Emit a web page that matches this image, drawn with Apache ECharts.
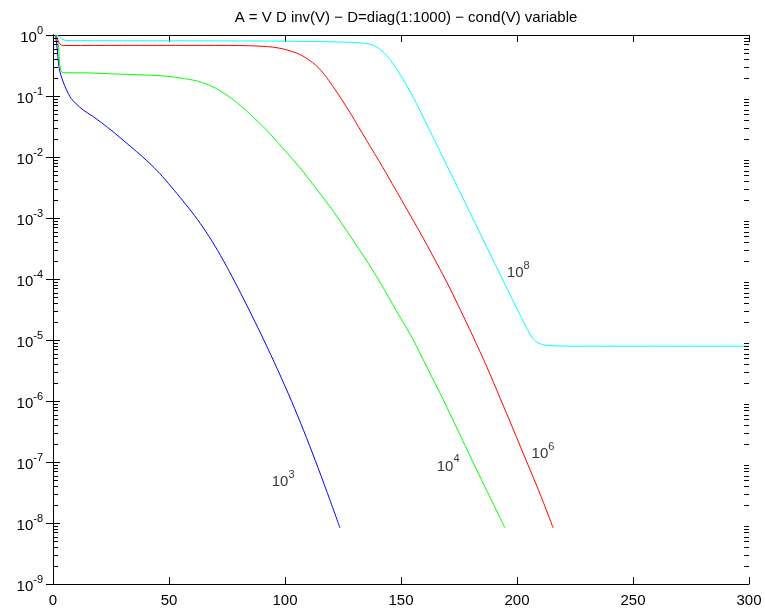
<!DOCTYPE html>
<html>
<head>
<meta charset="utf-8">
<script src="https://cdn.jsdelivr.net/npm/echarts@6/dist/echarts.min.js"></script>
<style>
  html, body { margin: 0; padding: 0; background: #fff; }
  #chart { width: 765px; height: 609px; }
</style>
</head>
<body>
<div id="chart"></div>
<script>
// Residual curves for four condition numbers of V: [iteration, residual]
const cond1e3 = [
  [1, 1.0], [1.6, 0.708], [2.7, 0.282], [4.4, 0.170], [7.3, 0.0977], [10, 0.0741],
  [13, 0.0589], [17, 0.0468], [21, 0.0363], [26, 0.0257], [31, 0.0178], [36, 0.0123],
  [41, 8.32e-3], [46, 5.37e-3], [51, 3.24e-3], [56, 1.91e-3], [61, 1.10e-3],
  [66, 5.89e-4], [71, 2.92e-4], [76, 1.33e-4], [81, 5.75e-5], [86, 2.40e-5],
  [90.5, 1.07e-5], [97, 3.16e-6], [102.9, 9.77e-7], [108, 3.31e-7], [113, 1.07e-7],
  [118, 3.31e-8], [123.7, 8.32e-9]
];
const cond1e4 = [
  [1, 1.0], [2.3, 0.692], [2.7, 0.417], [3.3, 0.269], [4.2, 0.243], [6, 0.241],
  [15, 0.239], [27.4, 0.229], [40, 0.221], [49, 0.211], [55, 0.197], [58.5, 0.188],
  [61.9, 0.177], [66, 0.158], [70, 0.135], [73.8, 0.110], [77.7, 0.0871],
  [81.5, 0.0661], [85, 0.0501], [92.1, 0.0275], [99, 0.0141], [106.5, 6.61e-3],
  [113.5, 3.02e-3], [120.8, 1.29e-3], [128, 5.13e-4], [134.5, 2.19e-4],
  [140.9, 8.91e-5], [148, 3.02e-5], [155, 1.05e-5], [161.5, 3.39e-6],
  [168.2, 1.05e-6], [174.5, 3.31e-7], [181, 1.0e-7], [188, 2.82e-8], [194.8, 8.32e-9]
];
const cond1e6 = [
  [1, 1.0], [1.6, 0.933], [3, 0.708], [4.4, 0.673], [6, 0.673], [30, 0.676],
  [60, 0.676], [80, 0.673], [90, 0.653], [95, 0.631], [99.3, 0.589], [103, 0.537],
  [106.5, 0.479], [110, 0.398], [113.7, 0.309], [117, 0.224], [120.8, 0.141],
  [124.5, 0.0871], [128, 0.0537], [135.2, 0.0186], [142, 6.92e-3], [150.3, 1.95e-3],
  [160, 4.37e-4], [169.7, 8.91e-5], [175, 3.47e-5], [181, 1.15e-5], [187, 3.63e-6],
  [192.7, 1.12e-6], [198, 3.72e-7], [204, 1.05e-7], [210, 2.95e-8], [215.6, 8.32e-9]
];
const cond1e8 = [
  [1, 1.0], [2, 0.977], [3, 0.912], [4, 0.851], [6, 0.813], [10, 0.807], [50, 0.803],
  [85, 0.798], [110, 0.785], [128, 0.759], [132, 0.745], [135.2, 0.724],
  [137.5, 0.692], [139.5, 0.638], [141, 0.582], [142.5, 0.519], [144, 0.452],
  [145.5, 0.385], [148, 0.282], [151, 0.186], [154, 0.117], [157, 0.0708],
  [160, 0.0417], [163.5, 0.0224], [167, 0.0120], [172, 4.90e-3], [177, 2.0e-3],
  [182, 8.13e-4], [187, 3.31e-4], [192, 1.35e-4], [196, 6.61e-5], [199.5, 3.55e-5],
  [202.5, 2.09e-5], [204.5, 1.48e-5], [206, 1.17e-5], [207.5, 1.0e-5],
  [209, 9.02e-6], [211, 8.41e-6], [214, 8.13e-6], [220, 7.94e-6], [250, 7.94e-6],
  [300, 7.94e-6]
];

// Curve annotations: [x, y, exponent]
const curveLabels = [
  [94.3, 5.25e-8, '3'],
  [165.4, 9.3e-8, '4'],
  [206.3, 1.5e-7, '6'],
  [195.6, 1.4e-4, '8']
];

const xTicks = [0, 50, 100, 150, 200, 250, 300];
const decades = [-9, -8, -7, -6, -5, -4, -3, -2, -1, 0];
const mantissas = [2, 3, 4, 5, 6, 7, 8, 9];

const FONT = '"Liberation Sans", Arial, Helvetica, sans-serif';
const supRich = {
  b: { fontSize: 15, fontFamily: FONT, color: '#000', verticalAlign: 'bottom' },
  s: { fontSize: 11, fontFamily: FONT, color: '#000', verticalAlign: 'bottom', padding: [0, 0, 9, 0] }
};

// minor log tick values inside each decade
const minorTickValues = [];
decades.slice(0, -1).forEach(function (d) {
  mantissas.forEach(function (m) { minorTickValues.push(m * Math.pow(10, d)); });
});

const chart = echarts.init(document.getElementById('chart'), null, { renderer: 'canvas' });

const axisLine = { show: true, lineStyle: { color: '#000', width: 1 } };
const yLog = {
  type: 'log', logBase: 10, min: 1e-9, max: 1, interval: 1,
  axisLine: axisLine,
  axisTick: { show: true, inside: true, length: 7, lineStyle: { color: '#000' } },
  splitLine: { show: false }
};

function curve(data, color) {
  return {
    type: 'line', data: data, showSymbol: false, smooth: 0.3,
    lineStyle: { color: color, width: 1 }, itemStyle: { color: color }
  };
}

chart.setOption({
  animation: false,
  backgroundColor: '#fff',
  title: {
    text: 'A = V D inv(V) \u2212 D=diag(1:1000) \u2212 cond(V) variable',
    left: 401, top: 5, textAlign: 'center',
    textStyle: { fontSize: 15, fontWeight: 'normal', fontFamily: FONT, color: '#000' }
  },
  grid: { left: 53, right: 16, top: 35, bottom: 25, containLabel: false },
  xAxis: [
    {
      type: 'value', min: xTicks[0], max: xTicks[xTicks.length - 1], interval: 50,
      axisLine: axisLine,
      axisTick: { show: true, inside: true, length: 7, lineStyle: { color: '#000' } },
      axisLabel: { fontSize: 15, fontFamily: FONT, color: '#000', margin: 9 },
      splitLine: { show: false }
    },
    {
      type: 'value', position: 'top', min: 0, max: 300, interval: 50,
      axisLine: axisLine,
      axisTick: { show: true, inside: true, length: 7, lineStyle: { color: '#000' } },
      axisLabel: { show: false },
      splitLine: { show: false }
    }
  ],
  yAxis: [
    Object.assign({}, yLog, {
      position: 'left',
      axisLabel: {
        margin: 10,
        formatter: function (v) {
          const e = Math.round(Math.log10(v));
          return '{b|10}{s|' + (e < 0 ? '-' + (-e) : e) + '}';
        },
        rich: supRich
      }
    }),
    Object.assign({}, yLog, { position: 'right', axisLabel: { show: false } })
  ],
  series: [
    curve(cond1e3, '#0000ff'),
    curve(cond1e4, '#00ff00'),
    curve(cond1e6, '#ff0000'),
    curve(cond1e8, '#00ffff'),
    {
      type: 'scatter', data: curveLabels, symbolSize: 0, silent: true,
      label: {
        show: true, position: [0, 0], align: 'left', verticalAlign: 'middle',
        formatter: function (p) { return '{b|10}{s|' + p.value[2] + '}'; },
        rich: supRich
      }
    }
  ]
});

// Minor ticks on both vertical edges, placed through the axis scales
const xLeft = Math.round(chart.convertToPixel({ xAxisIndex: 0 }, xTicks[0]));
const xRight = Math.round(chart.convertToPixel({ xAxisIndex: 0 }, xTicks[xTicks.length - 1]));
const tickMarks = [];
minorTickValues.forEach(function (v) {
  const y = Math.round(chart.convertToPixel({ yAxisIndex: 0 }, v));
  tickMarks.push({
    type: 'rect', z: 100, silent: true,
    shape: { x: xLeft, y: y, width: 5, height: 1 },
    style: { fill: '#000' }
  });
  tickMarks.push({
    type: 'rect', z: 100, silent: true,
    shape: { x: xRight - 5, y: y, width: 5, height: 1 },
    style: { fill: '#000' }
  });
});
chart.setOption({ graphic: tickMarks });
</script>
</body>
</html>
